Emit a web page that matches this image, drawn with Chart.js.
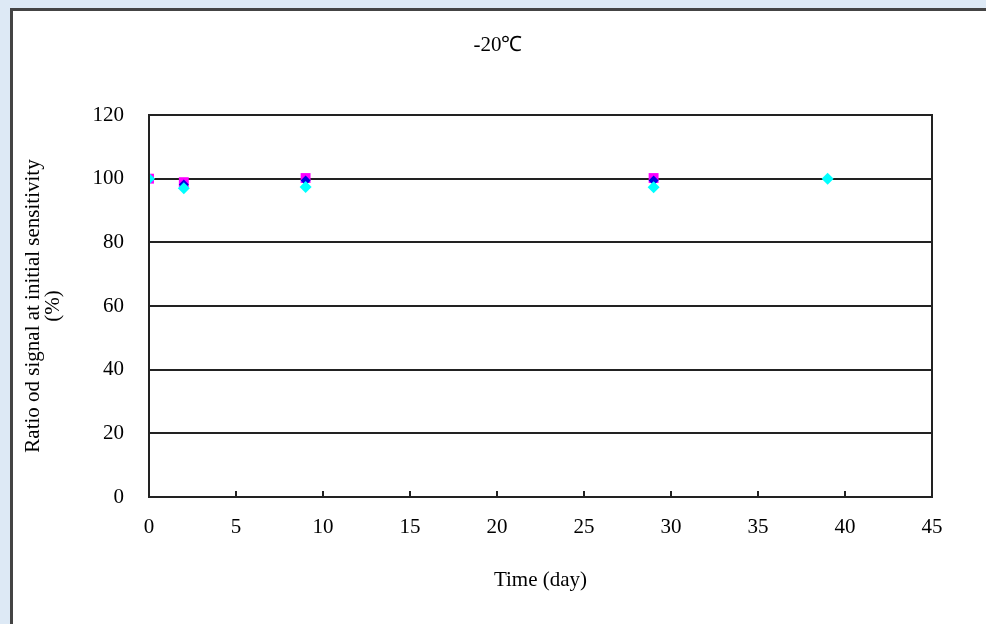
<!DOCTYPE html>
<html>
<head>
<meta charset="utf-8">
<script src="https://cdn.jsdelivr.net/npm/chart.js@4.4.0/dist/chart.umd.min.js"></script>
<style>
  html, body { margin: 0; padding: 0; background: #dde9f5; overflow: hidden; }
  #panel {
    position: absolute; left: 10px; top: 8px; width: 1000px; height: 700px;
    background: #fff; border-left: 3px solid #444; border-top: 3px solid #444;
  }
  #wrap { position: absolute; left: 0; top: 0; width: 986px; height: 624px; }
</style>
</head>
<body>
<div id="panel"></div>
<div id="wrap"><canvas id="chart" width="986" height="624"></canvas></div>
<script>
// values
const days = [0, 2, 9, 29, 39];
const magentaVals = [100, 98.9, 100.2, 100.2, null];
const blueVals = [100, 98.2, 99.4, 99.4, null];
const cyanVals = [100, 97, 97.4, 97.3, 100];
const xTicks = [0, 5, 10, 15, 20, 25, 30, 35, 40, 45];
const yTicks = [0, 20, 40, 60, 80, 100, 120];

const serif = "'Liberation Serif', 'Times New Roman', serif";

function toPoints(vals) {
  return days.map((d, i) => ({ x: d, y: vals[i] })).filter(p => p.y !== null);
}

// plot box, inward x tick marks, title centred on the panel
const frame = {
  id: "frame",
  afterLayout(chart) {
    if (chart.titleBlock) {
      chart.titleBlock.left = 10;
      chart.titleBlock.right = 986;
    }
  },
  afterDraw(chart) {
    const { ctx, chartArea: a } = chart;
    const xs = chart.scales.x;
    ctx.save();
    ctx.strokeStyle = "#222";
    ctx.lineWidth = 2;
    ctx.strokeRect(a.left, a.top, a.right - a.left, a.bottom - a.top);
    ctx.beginPath();
    xTicks.forEach(t => {
      const px = xs.getPixelForValue(t);
      ctx.moveTo(px, a.bottom);
      ctx.lineTo(px, a.bottom - 6);
    });
    ctx.stroke();
    ctx.restore();
  }
};

new Chart(document.getElementById("chart").getContext("2d"), {
  type: "scatter",
  data: {
    datasets: [
      {
        label: "C",
        data: toPoints(cyanVals),
        pointStyle: "rectRot",
        pointRadius: 6,
        backgroundColor: "#00ffff",
        borderColor: "#00ffff",
        borderWidth: 0,
      },
      {
        label: "B",
        data: toPoints(blueVals),
        pointStyle: "rectRot",
        pointRadius: 5,
        backgroundColor: "#0000e0",
        borderColor: "#0000e0",
        borderWidth: 0,
      },
      {
        label: "A",
        data: toPoints(magentaVals),
        pointStyle: "rect",
        pointRadius: 7,
        backgroundColor: "#ff00ff",
        borderColor: "#ff00ff",
        borderWidth: 0,
      },
    ],
  },
  options: {
    responsive: false,
    animation: false,
    layout: { padding: { left: 0, right: 54, top: 0, bottom: 0 } },
    plugins: {
      legend: { display: false },
      tooltip: { enabled: false },
      title: {
        display: true,
        text: "-20\u2103",
        color: "#000",
        font: { family: serif, size: 21, weight: "normal", lineHeight: "20px" },
        padding: { top: 35, bottom: 60 },
      },
    },
    scales: {
      x: {
        type: "linear",
        min: 0,
        max: 45,
        afterBuildTicks: s => { s.ticks = xTicks.map(v => ({ value: v })); },
        afterFit: s => { s.height = 127; },
        grid: { display: false, drawTicks: false },
        border: { display: false },
        ticks: {
          color: "#000",
          padding: 18,
          maxRotation: 0,
          font: { family: serif, size: 21 },
        },
        title: {
          display: true,
          text: "Time (day)",
          color: "#000",
          font: { family: serif, size: 21, lineHeight: "20px" },
          padding: { top: 0, bottom: 34 },
        },
      },
      y: {
        min: 0,
        max: 120,
        afterBuildTicks: s => { s.ticks = yTicks.map(v => ({ value: v })); },
        afterFit: s => { s.width = 149; },
        grid: { color: "#222", lineWidth: 2, drawTicks: false },
        border: { display: false },
        ticks: {
          color: "#000",
          padding: 25,
          font: { family: serif, size: 21 },
        },
        title: {
          display: true,
          text: ["Ratio od signal at initial sensitivity", "(%)"],
          color: "#000",
          font: { family: serif, size: 21, lineHeight: "20px" },
          padding: { top: 23, bottom: 0 },
        },
      },
    },
  },
  plugins: [frame],
});
</script>
</body>
</html>
